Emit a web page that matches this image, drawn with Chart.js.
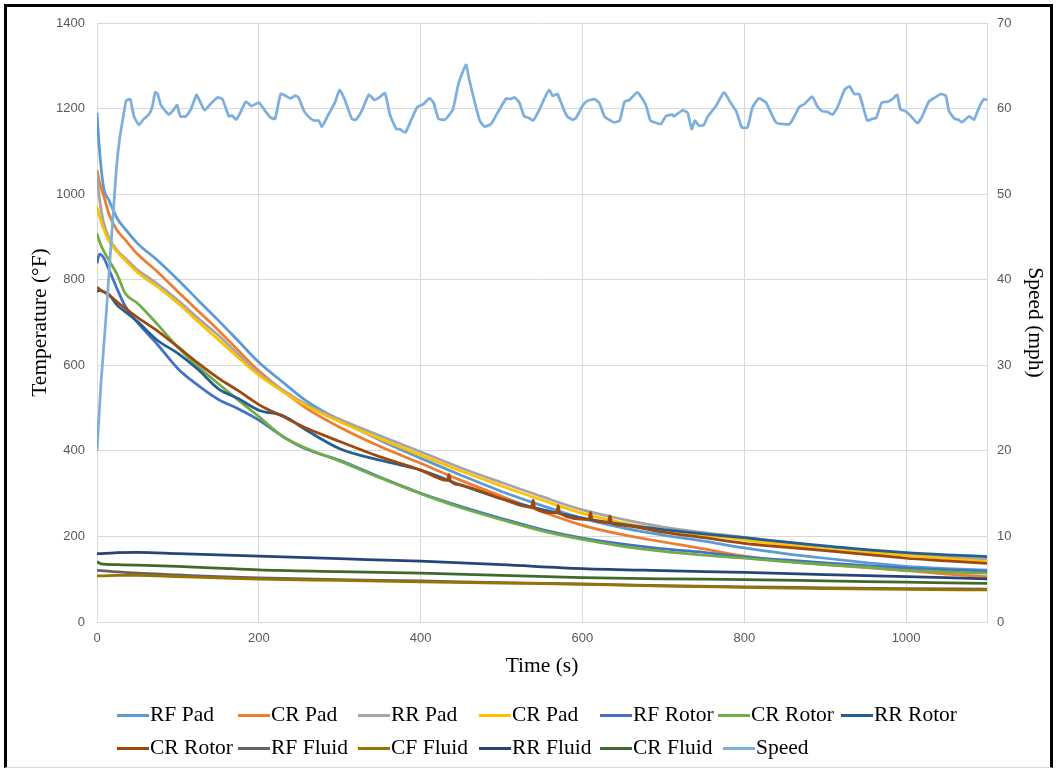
<!DOCTYPE html>
<html>
<head>
<meta charset="utf-8">
<script src="https://cdn.jsdelivr.net/npm/chart.js@4.4.1/dist/chart.umd.min.js"></script>
<style>
  body { margin: 0; background: #fff; }
  #wrap { position: relative; width: 1057px; height: 770px; overflow: hidden; }
  #frame {
    position: absolute; left: 4px; top: 4px; width: 1049px; height: 764px;
    border: 3px solid #000; border-bottom: 1px solid #d9d9d9;
    box-sizing: border-box; pointer-events: none;
  }
  #chart { position: absolute; left: 0; top: 0; }
  .item {
    position: absolute; font-family: "Liberation Serif", serif; font-size: 21.5px;
    color: #000; white-space: nowrap; line-height: 26px; height: 26px;
  }
  .item .swatch {
    display: inline-block; width: 32px; height: 3px; vertical-align: middle;
    margin-right: 1px; position: relative; top: -1px;
  }
</style>
</head>
<body>
<div id="wrap">
  <canvas id="chart" width="1057" height="770"></canvas>
  <div id="legend"></div>
  <div id="frame"></div>
</div>
<script>
// time axis (s) shared by the pad / rotor curves
const timeTemp = [0, 3, 8, 15, 25, 35, 50, 75, 100, 125, 150, 175, 200, 230, 260, 300,
  350, 400, 450, 500, 550, 600, 650, 700, 750, 800, 850, 900, 950, 1000, 1050, 1100];

const rfPad = [1190, 1105, 1017, 985, 943, 918, 885, 845, 800, 752, 705, 656, 607, 560, 515, 472,
  425, 383, 343, 305, 272, 242, 220, 203, 189, 173, 160, 149, 139, 130, 125, 121];
const crPad = [1056, 1028, 998, 952, 915, 893, 860, 818, 772, 727, 682, 634, 587, 540, 498, 455,
  410, 371, 331, 294, 258, 226, 204, 187, 171, 154, 142, 134, 127, 120, 112, 106];
const rrPad = [1048, 990, 935, 897, 868, 850, 823, 790, 752, 710, 670, 625, 582, 542, 507, 474,
  435, 398, 360, 326, 293, 262, 240, 222, 209, 198, 186, 176, 168, 160, 152, 147];
const crPad2 = [971, 950, 920, 890, 865, 845, 817, 783, 745, 702, 660, 617, 577, 538, 504, 468,
  428, 390, 353, 318, 285, 254, 232, 215, 203, 192, 180, 170, 162, 156, 148, 141];
const rfRotor = [838, 860, 852, 823, 778, 738, 700, 648, 592, 553, 520, 498, 472, 433, 403, 378,
  338, 301, 270, 242, 216, 196, 182, 171, 163, 152, 145, 138, 132, 126, 122, 119];
const crRotor = [908, 890, 868, 845, 812, 768, 745, 695, 642, 597, 557, 518, 480, 433, 405, 376,
  337, 300, 267, 239, 213, 193, 177, 165, 156, 149, 141, 134, 128, 121, 117, 114];
const rrRotor = [772, 775, 772, 765, 740, 725, 702, 658, 628, 590, 545, 522, 495, 482, 447, 405,
  378, 355, 320, 288, 263, 243, 228, 216, 206, 197, 187, 178, 169, 162, 157, 153];

// second CR Rotor trace has small spikes, so it keeps its own times
const timeCrRotor2 = [0, 8, 15, 25, 35, 50, 75, 100, 125, 150, 175, 200, 230, 260, 300, 350, 400,
  433, 435, 437, 450, 500, 537, 539, 541, 568, 570, 572, 608, 610, 612, 632, 634, 636,
  650, 700, 750, 800, 850, 900, 950, 1000, 1050, 1100];
const crRotor2 = [782, 772, 764, 748, 733, 712, 680, 643, 605, 570, 540, 508, 480, 452, 422, 386, 355,
  331, 345, 330, 320, 288, 268, 285, 267, 255, 272, 254, 240, 256, 239, 233, 248, 232,
  226, 210, 197, 184, 175, 167, 158, 149, 143, 137];

// fluid temperatures
const timeFluid = [0, 5, 25, 50, 100, 150, 200, 300, 400, 500, 600, 700, 800, 900, 1000, 1100];
const rfFluid = [121, 120, 117, 114, 110, 106, 103, 99, 96, 92, 89, 85, 82, 80, 78, 77];
const cfFluid = [108, 108, 109, 109, 106, 103, 100, 97, 94, 91, 88, 84, 81, 78, 76, 75];
const rrFluid = [160, 160, 162, 163, 160, 157, 154, 148, 142, 134, 125, 120, 116, 111, 106, 101];
const crFluid = [141, 136, 134, 133, 130, 126, 122, 118, 114, 109, 104, 101, 99, 96, 93, 90];

// vehicle speed (mph), right axis
const speedTime = [0, 5, 11, 18, 24, 28, 32, 36, 41, 46, 52, 58, 64, 68, 72, 75, 79, 89, 95, 99,
  103, 110, 116, 123, 126, 133, 140, 149, 155, 163, 167, 172, 177, 184, 191, 200, 208, 214, 220,
  227, 233, 239, 245, 249, 256, 262, 268, 274, 278, 286, 294, 300, 306, 315, 320, 327, 336, 343,
  349, 356, 362, 370, 374, 381, 388, 396, 403, 411, 416, 422, 430, 434, 440, 447, 456, 460, 467,
  473, 479, 487, 495, 506, 511, 516, 522, 528, 534, 539, 547, 553, 559, 563, 569, 576, 581, 588,
  592, 600, 606, 615, 621, 627, 631, 639, 646, 652, 658, 668, 678, 684, 689, 697, 703, 711, 713,
  724, 730, 735, 739, 744, 750, 755, 765, 775, 783, 790, 797, 804, 810, 818, 827, 831, 839, 845,
  856, 862, 868, 874, 884, 890, 896, 903, 909, 915, 924, 930, 936, 942, 946, 952, 958, 963, 970,
  977, 983, 989, 993, 999, 1006, 1014, 1020, 1028, 1034, 1043, 1049, 1053, 1060, 1065, 1069,
  1078, 1084, 1090, 1096, 1100];
const speedMph = [20, 28, 35.5, 45, 53, 56.5, 58.8, 60.9, 61.1, 59.0, 58.1, 58.8, 59.3, 60.1, 61.9,
  61.7, 60.4, 59.3, 59.9, 60.4, 59.1, 59.1, 59.9, 61.6, 61.1, 59.8, 60.5, 61.3, 61.1, 59.1, 59.2,
  58.7, 59.5, 60.8, 60.3, 60.7, 59.7, 59.0, 58.8, 61.7, 61.5, 61.2, 61.5, 61.3, 59.7, 59.0, 58.6,
  58.6, 57.9, 59.3, 60.7, 62.2, 61.1, 58.8, 58.7, 59.7, 61.6, 61.0, 61.3, 61.8, 59.3, 57.6, 57.6,
  57.2, 58.6, 60.2, 60.5, 61.2, 60.7, 58.8, 58.7, 59.1, 59.9, 63.0, 65.1, 63.4, 60.7, 58.6, 57.9,
  58.2, 59.5, 61.2, 61.1, 61.3, 60.7, 59.1, 58.9, 58.6, 59.9, 61.2, 62.2, 61.5, 61.7, 60.1, 59.1,
  58.7, 58.9, 60.3, 60.9, 61.1, 60.6, 59.1, 58.8, 58.4, 58.6, 60.8, 61.0, 61.9, 60.5, 58.6, 58.4,
  58.2, 59.1, 59.3, 59.1, 59.8, 59.5, 57.6, 58.6, 58.0, 58.1, 59.1, 60.3, 61.9, 60.7, 59.7, 57.8,
  57.8, 60.1, 61.2, 60.7, 59.9, 58.4, 58.2, 58.2, 59.1, 60.2, 60.5, 61.4, 60.3, 59.7, 59.6, 59.3,
  60.1, 62.2, 62.6, 61.7, 61.7, 60.5, 58.6, 58.8, 58.9, 60.7, 60.8, 61.1, 61.6, 59.9, 59.7, 59.1,
  58.3, 59.1, 60.8, 61.2, 61.7, 61.5, 59.7, 58.8, 58.7, 58.4, 59.1, 58.7, 60.1, 61.1, 61.0];

const seriesNames = ["RF Pad", "CR Pad", "RR Pad", "CR Pad", "RF Rotor", "CR Rotor", "RR Rotor",
  "CR Rotor", "RF Fluid", "CF Fluid", "RR Fluid", "CR Fluid", "Speed"];
const seriesColors = ["#5B9BD5", "#ED7D31", "#A5A5A5", "#FFC000", "#4472C4", "#70AD47", "#255E91",
  "#9E480E", "#636363", "#997300", "#264478", "#43682B", "#7CAFDD"];

const xTicks = [0, 200, 400, 600, 800, 1000];

function toPoints(times, vals) {
  return times.map((t, i) => ({ x: t, y: vals[i] }));
}

const seriesData = [
  toPoints(timeTemp, rfPad), toPoints(timeTemp, crPad), toPoints(timeTemp, rrPad),
  toPoints(timeTemp, crPad2), toPoints(timeTemp, rfRotor), toPoints(timeTemp, crRotor),
  toPoints(timeTemp, rrRotor), toPoints(timeCrRotor2, crRotor2),
  toPoints(timeFluid, rfFluid), toPoints(timeFluid, cfFluid), toPoints(timeFluid, rrFluid),
  toPoints(timeFluid, crFluid), toPoints(speedTime, speedMph)
];

const n = seriesNames.length;
const datasets = seriesNames.map((name, i) => ({
  label: name,
  data: seriesData[i],
  borderColor: seriesColors[i],
  backgroundColor: seriesColors[i],
  borderWidth: 2.75,
  pointRadius: 0,
  fill: false,
  yAxisID: i === n - 1 ? "y1" : "y",
  cubicInterpolationMode: i === n - 1 ? "default" : "monotone",
  tension: i === n - 1 ? 0.15 : 0.4,
  order: n - i   // later series sit on top, like the original
}));

const tickFont = { family: "'Liberation Sans', Arial, sans-serif", size: 13 };
const titleFont = { family: "'Liberation Serif', 'Times New Roman', serif", size: 21.5 };
const plainNum = (v) => String(v);

new Chart(document.getElementById("chart"), {
  type: "line",
  data: { datasets: datasets },
  options: {
    responsive: false,
    animation: false,
    layout: { padding: { top: 23, bottom: 88, left: 0, right: 0 } },
    plugins: { legend: { display: false }, tooltip: { enabled: false } },
    scales: {
      x: {
        type: "linear", min: 0, max: 1100,
        ticks: { stepSize: 200, padding: 9, color: "#595959", font: tickFont, maxRotation: 0, callback: plainNum },
        grid: { color: "#d9d9d9", drawTicks: false },
        border: { color: "#d9d9d9" },
        title: { display: true, text: "Time (s)", color: "#000", font: titleFont, padding: { top: 0, bottom: 3 } },
        afterBuildTicks: (s) => { s.ticks = xTicks.map((v) => ({ value: v })); },
        afterFit: (s) => { s.height = 60; }
      },
      y: {
        position: "left", min: 0, max: 1400,
        ticks: { stepSize: 200, padding: 12, color: "#595959", font: tickFont, callback: plainNum },
        grid: { color: "#d9d9d9", drawTicks: false },
        border: { color: "#d9d9d9" },
        title: { display: true, text: "Temperature (°F)", color: "#000", font: titleFont, padding: { top: 27, bottom: 0 } },
        afterFit: (s) => { s.width = 97; }
      },
      y1: {
        position: "right", min: 0, max: 70,
        ticks: { stepSize: 10, padding: 10, color: "#595959", font: tickFont, callback: plainNum },
        grid: { display: false, drawTicks: false },
        border: { color: "#d9d9d9" },
        title: { display: true, text: "Speed (mph)", color: "#000", font: titleFont, padding: { top: 9, bottom: 0 } },
        afterFit: (s) => { s.width = 70; }
      }
    }
  }
});

// legend laid out in Excel-style columns
const legendRows = [[0, 1, 2, 3, 4, 5, 6], [7, 8, 9, 10, 11, 12]];
const legendLeft = [[117, 238, 358, 479, 600, 718, 841], [117, 238, 358, 479, 600, 723]];
const legendTop = [701, 734];
const legend = document.getElementById("legend");
legendRows.forEach((row, r) => {
  row.forEach((idx, c) => {
    const el = document.createElement("div");
    el.className = "item";
    el.style.left = legendLeft[r][c] + "px";
    el.style.top = legendTop[r] + "px";
    el.innerHTML = `<span class="swatch" style="background:${seriesColors[idx]}"></span>${seriesNames[idx]}`;
    legend.appendChild(el);
  });
});
</script>
</body>
</html>
